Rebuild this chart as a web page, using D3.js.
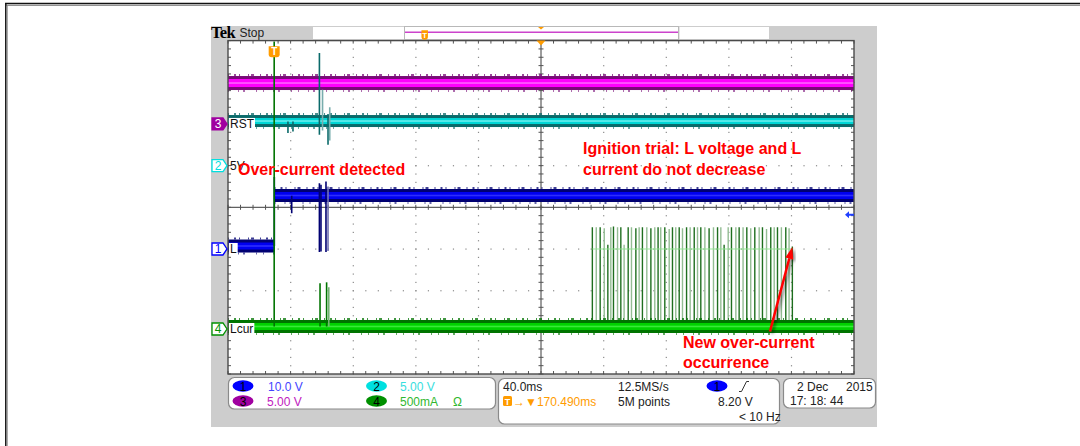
<!DOCTYPE html>
<html><head><meta charset="utf-8">
<script src="https://cdn.jsdelivr.net/npm/d3@7"></script>
<style>html,body{margin:0;padding:0;background:#fff}svg{display:block}</style>
</head><body>
<svg id="c" width="1080" height="446"></svg>
<script>
// ---------------- DATA ----------------
const timePerDiv = 40;          // ms / div
const horizPosition = 170.49;   // ms at screen centre (trigger -> centre)
const channelIds = ["1", "2", "3", "4"];
const channelLabels = ["L", "5V", "RST", "Lcur"];
const channelPerDiv = [10, 5, 5, 0.5];          // V/div, V/div, V/div, A/div
const channelOffsetDiv = [-1, 1, 2, -2.92];     // ground marker position (div)
const channelScaleText = ["10.0 V", "5.00 V", "5.00 V", "500mA"];
const triggerLevel = 8.2;                       // V on channel 1

// flat levels: [tStart ms, tEnd ms, value]
const ch1Levels = [[-29.5, 0.2, 0.71], [0.2, 370.5, 12.83]];
const ch2Levels = [[-29.5, 370.5, 5.35]];
const ch3Levels = [[-29.5, 370.5, 4.91]];
const ch4Levels = [[-29.5, 370.5, 0.03]];

// glitches: [t ms, min value, max value, shade(0 dark / 1 light)]
const ch1Spikes = [[0.1, 0.71, 17.3, 0], [11.2, 8.6, 12.8, 0], [28.9, -0.7, 15.8, 0], [29.9, -0.6, 15.4, 0], [33.1, -0.7, 16.2, 0], [34.4, -0.5, 15.0, 1]];
const ch2Spikes = [[8.8, 3.9, 5.3, 0], [12.0, 4.1, 5.3, 0], [28.9, 3.7, 13.5, 0], [30.9, 4.2, 9.1, 1], [34.4, 2.5, 6.2, 0], [35.5, 3.0, 7.0, 1]];
const ch4Spikes = [[0.0, 0.03, 3.45, 0], [29.3, 0.03, 0.55, 0], [33.5, 0.03, 0.56, 0], [34.9, 0.03, 0.50, 1]];

// current pulses during ignition trial: times (ms) and peak currents (A)
const pulseTimes = [203.3, 205.8, 208.3, 210.9, 213.2, 215.1, 216.8, 219.4, 221.5, 223.6, 226.2, 228.3, 231.1, 233.2, 235.3, 238.1, 240.7, 243.2, 245.3, 247.0, 249.6, 252.4, 254.5, 256.6, 258.8, 260.9, 263.5, 265.8, 268.4, 270.5, 272.6, 275.2, 277.9, 280.7, 283.3, 285.4, 287.5, 290.1, 292.2, 295.0, 297.1, 299.6, 302.0, 304.5, 307.1, 309.9, 312.0, 314.6, 317.3, 319.5, 321.6, 324.1, 326.9, 329.0, 331.1];
const pulsePeaks = [1.22, 1.22, 1.22, 1.21, 1.01, 1.22, 1.23, 1.22, 1.22, 1.01, 1.22, 1.22, 1.21, 1.22, 1.22, 1.22, 1.21, 1.22, 1.22, 1.22, 1.22, 1.20, 1.22, 1.22, 1.22, 1.21, 1.22, 1.22, 1.22, 1.22, 1.22, 1.22, 1.21, 1.22, 1.22, 1.22, 1.01, 1.22, 1.22, 1.22, 1.22, 1.22, 1.22, 1.21, 1.22, 1.22, 1.22, 1.20, 1.22, 1.22, 1.22, 1.22, 1.22, 1.21, 0.99];
const pulseGlowLevel = 0.96;

// annotations
const annotations = [
  {lines: ["Over-current detected"], x: 238, y: 174.5},
  {lines: ["Ignition trial: L voltage and L", "current do not decrease"], x: 583, y: 154},
  {lines: ["New over-current", "occurrence"], x: 683, y: 347.5}
];
const arrowFrom = [316.8, -0.03];   // [ms, A]
const arrowTo = [331.1, 0.985];

const sampleRate = "12.5MS/s", recordLen = "5M points", trigFreq = "< 10 Hz";
const dateText = ["2 Dec", "2015"], timeText = "17: 18: 44";

// ---------------- STYLE ----------------
const palette = {
  "1": {dark: "#000072", bright: "#0000f0", core: "#3a3aff", ui: "#0000ff", text: "#4444ff", width: 13},
  "2": {dark: "#0a6a6a", bright: "#00d6d6", core: "#80f2f2", ui: "#00e0e0", text: "#38dede", width: 12},
  "3": {dark: "#7a0a78", bright: "#ff00ff", core: "#ff7cff", ui: "#a000a0", text: "#c020c0", width: 14},
  "4": {dark: "#007400", bright: "#00d200", core: "#48f048", ui: "#009000", text: "#30b830", width: 13}
};
const FONT = "Liberation Sans, Arial, sans-serif";

const svg = d3.select("#c");
const G = {l: 228, r: 854, t: 40.6, b: 374};
const xDiv = d3.scaleLinear().domain([-5, 5]).range([G.l, G.r]);
const yDiv = d3.scaleLinear().domain([-4, 4]).range([G.b, G.t]);
const xT = d3.scaleLinear().domain([horizPosition - 5 * timePerDiv, horizPosition + 5 * timePerDiv]).range([G.l, G.r]);
const idx = id => channelIds.indexOf(id);
const yV = (id, v) => yDiv(channelOffsetDiv[idx(id)] + v / channelPerDiv[idx(id)]);

// outer document frame
svg.append("line").attr("x1", 5).attr("x2", 1080).attr("y1", 3.5).attr("y2", 3.5).attr("stroke", "#111").attr("stroke-width", 1.3);
svg.append("line").attr("x1", 6).attr("x2", 1080).attr("y1", 5.3).attr("y2", 5.3).attr("stroke", "#777").attr("stroke-width", 1);
svg.append("line").attr("x1", 5.8).attr("x2", 5.8).attr("y1", 3).attr("y2", 446).attr("stroke", "#111").attr("stroke-width", 1.5);
svg.append("line").attr("x1", 7.2).attr("x2", 7.2).attr("y1", 5).attr("y2", 446).attr("stroke", "#888").attr("stroke-width", 1);

// scope panel
svg.append("rect").attr("x", 211).attr("y", 26).attr("width", 666).attr("height", 401).attr("fill", "#cdcdcd");
// top bar
svg.append("rect").attr("x", 313).attr("y", 27).attr("width", 91).attr("height", 12).attr("fill", "#fff");
svg.append("rect").attr("x", 404.5).attr("y", 26.5).attr("width", 274).attr("height", 13).attr("fill", "#fff").attr("stroke", "#b8b8b8");
svg.append("rect").attr("x", 679.5).attr("y", 27).attr("width", 89.5).attr("height", 12).attr("fill", "#fff");
svg.append("line").attr("x1", 405).attr("x2", 678).attr("y1", 32.2).attr("y2", 32.2).attr("stroke", "#cc44cc").attr("stroke-width", 1.4);
svg.append("text").attr("x", 211).attr("y", 38).attr("font-family", "Liberation Serif, Times New Roman, serif").attr("font-weight", "bold").attr("font-size", 16.5).attr("letter-spacing", -0.7).text("Tek");
svg.append("text").attr("x", 239.5).attr("y", 37).attr("font-family", FONT).attr("font-size", 12).attr("fill", "#222").text("Stop");

function tTab(g, cx, top, w, h, fs) {
  g.append("path").attr("d", `M${cx - w / 2},${top} h${w} v${h - 3} q0,3 -3,3 h${-(w - 6)} q-3,0 -3,-3 z`).attr("fill", "#ff9c00");
  g.append("text").attr("x", cx).attr("y", top + h - 2).attr("text-anchor", "middle").attr("font-family", FONT).attr("font-weight", "bold").attr("font-size", fs).attr("fill", "#fff").text("T");
}
tTab(svg, 424.7, 30.3, 6.5, 9.4, 8);
svg.append("path").attr("d", "M538,27 h6 l-3,2.5 z").attr("fill", "#ff9c00");

// graticule
svg.append("rect").attr("x", G.l).attr("y", G.t).attr("width", G.r - G.l).attr("height", G.b - G.t).attr("fill", "#fff");
const grid = svg.append("g");
const minorX = d3.range(-5, 5.001, 0.2), minorY = d3.range(-4, 4.001, 0.2);
d3.range(-4, 5).filter(i => i !== 0).forEach(i => {
  grid.selectAll(null).data(minorY).join("rect").attr("x", xDiv(i) - 0.5).attr("y", d => yDiv(d) - 0.5).attr("width", 1.2).attr("height", 1.2).attr("fill", "#8a8a8a");
});
d3.range(-3, 4).filter(j => j !== 0).forEach(j => {
  grid.selectAll(null).data(minorX).join("rect").attr("x", d => xDiv(d) - 0.5).attr("y", yDiv(j) - 0.5).attr("width", 1.2).attr("height", 1.2).attr("fill", "#8a8a8a");
});
// centre lines
grid.append("line").attr("x1", G.l).attr("x2", G.r).attr("y1", yDiv(0)).attr("y2", yDiv(0)).attr("stroke", "#3a3a3a").attr("stroke-width", 1);
grid.append("line").attr("x1", xDiv(0)).attr("x2", xDiv(0)).attr("y1", G.t).attr("y2", G.b).attr("stroke", "#3a3a3a").attr("stroke-width", 1);
grid.selectAll(null).data(minorX).join("line").attr("x1", d => xDiv(d)).attr("x2", d => xDiv(d)).attr("y1", yDiv(0) - 2.5).attr("y2", yDiv(0) + 2.5).attr("stroke", "#555");
grid.selectAll(null).data(minorY).join("line").attr("y1", d => yDiv(d)).attr("y2", d => yDiv(d)).attr("x1", xDiv(0) - 2.5).attr("x2", xDiv(0) + 2.5).attr("stroke", "#555");
// edge ticks
grid.selectAll(null).data(minorX).join("line").attr("x1", d => xDiv(d)).attr("x2", d => xDiv(d)).attr("y1", G.t).attr("y2", G.t + 3).attr("stroke", "#555");
grid.selectAll(null).data(minorX).join("line").attr("x1", d => xDiv(d)).attr("x2", d => xDiv(d)).attr("y1", G.b - 3).attr("y2", G.b).attr("stroke", "#555");
grid.selectAll(null).data(minorY).join("line").attr("y1", d => yDiv(d)).attr("y2", d => yDiv(d)).attr("x1", G.l).attr("x2", G.l + 3).attr("stroke", "#555");
grid.selectAll(null).data(minorY).join("line").attr("y1", d => yDiv(d)).attr("y2", d => yDiv(d)).attr("x1", G.r - 3).attr("x2", G.r).attr("stroke", "#555");

// clip
svg.append("clipPath").attr("id", "gclip").append("rect").attr("x", G.l).attr("y", G.t).attr("width", G.r - G.l).attr("height", G.b - G.t);
const traces = svg.append("g").attr("clip-path", "url(#gclip)");

function band(id, lv) {
  const p = palette[id], yc = yV(id, lv[2]), x0 = xT(lv[0]), x1 = xT(lv[1]), w = p.width;
  traces.append("rect").attr("x", x0).attr("y", yc - w / 2).attr("width", x1 - x0).attr("height", w).attr("fill", p.dark);
  traces.append("rect").attr("x", x0).attr("y", yc - w / 2 + 3).attr("width", x1 - x0).attr("height", w - 6).attr("fill", p.bright);
  traces.append("rect").attr("x", x0).attr("y", yc - 0.8).attr("width", x1 - x0).attr("height", 1.6).attr("fill", p.core).attr("opacity", 0.8);
  traces.append("line").attr("x1", x0).attr("x2", x1).attr("y1", yc - w / 2 - 1).attr("y2", yc - w / 2 - 1).attr("stroke", p.dark).attr("stroke-width", 2).attr("stroke-dasharray", "1,5,2,3,1,8,1,2,3,6").attr("opacity", 0.75);
  traces.append("line").attr("x1", x0).attr("x2", x1).attr("y1", yc + w / 2 + 1).attr("y2", yc + w / 2 + 1).attr("stroke", p.dark).attr("stroke-width", 2).attr("stroke-dasharray", "1,9,1,4,2,11,1,6").attr("opacity", 0.6);
}
function spikes(id, arr) {
  const p = palette[id];
  traces.selectAll(null).data(arr).join("line")
    .attr("x1", d => xT(d[0])).attr("x2", d => xT(d[0]))
    .attr("y1", d => yV(id, d[1])).attr("y2", d => yV(id, d[2]))
    .attr("stroke", d => d[3] ? d3.interpolateRgb(p.dark, "#ffffff")(0.45) : p.dark).attr("stroke-width", 1.6);
}

// pulses (behind ch4 band)
const pulses = pulseTimes.map((t, i) => ({t, v: pulsePeaks[i], i}));
traces.selectAll(null).data(pulses).join("line")
  .attr("x1", d => xT(d.t)).attr("x2", d => xT(d.t))
  .attr("y1", yV("4", ch4Levels[0][2])).attr("y2", d => yV("4", d.v))
  .attr("stroke", d => d.i % 2 ? "#93bd93" : "#1e6e1e").attr("stroke-width", 1.4);
traces.append("line").attr("x1", xT(pulseTimes[0])).attr("x2", xT(pulseTimes[pulseTimes.length - 1]))
  .attr("y1", yV("4", pulseGlowLevel)).attr("y2", yV("4", pulseGlowLevel)).attr("stroke", "#8fe88f").attr("stroke-width", 2).attr("opacity", 0.45);

ch3Levels.forEach(l => band("3", l));
ch2Levels.forEach(l => band("2", l));
ch1Levels.forEach(l => band("1", l));
ch4Levels.forEach(l => band("4", l));
spikes("2", ch2Spikes);
spikes("1", ch1Spikes);
spikes("4", ch4Spikes);

// graticule border
svg.append("rect").attr("x", G.l).attr("y", G.t).attr("width", G.r - G.l).attr("height", G.b - G.t).attr("fill", "none").attr("stroke", "#4a4a4a").attr("stroke-width", 1.4);

// trigger markers
tTab(svg, xT(0), 46.3, 11, 11, 10);
svg.append("path").attr("d", `M${xDiv(0) - 4.5},${G.t} h9 l-4.5,5 z`).attr("fill", "#ff9c00");
const tl = yV("1", triggerLevel);
svg.append("path").attr("d", `M${G.r - 9},${tl} l4,-3.5 v2.5 h5 v2 h-5 v2.5 z`).attr("fill", "#2040ff");

// channel markers & labels
function marker(id, label, filled, boxed) {
  const p = palette[id], y = yDiv(channelOffsetDiv[idx(id)]);
  svg.append("path").attr("d", `M212,${y - 6} h11 l4,6 l-4,6 h-11 z`).attr("fill", filled ? p.ui : "#fff").attr("stroke", p.ui).attr("stroke-width", 1.3);
  svg.append("text").attr("x", 218).attr("y", y + 4.5).attr("text-anchor", "middle").attr("font-family", FONT).attr("font-size", 12).attr("fill", filled ? "#fff" : p.ui).text(id);
  const t = svg.append("text").attr("x", 230).attr("y", y + 4.5).attr("font-family", FONT).attr("font-size", 12).attr("fill", "#111").text(label);
  if (boxed) {
    const w = t.node().getComputedTextLength();
    svg.insert("rect", "text:last-of-type").attr("x", 229).attr("y", y - 6).attr("width", w + 2).attr("height", 12).attr("fill", "#fff");
    t.raise();
  }
}
marker("3", channelLabels[2], true, true);
marker("2", channelLabels[1], false, false);
marker("1", channelLabels[0], false, true);
marker("4", channelLabels[3], false, true);

// annotations
annotations.forEach(a => {
  a.lines.forEach((s, i) => svg.append("text").attr("x", a.x).attr("y", a.y + i * 20.5)
    .attr("font-family", FONT).attr("font-weight", "bold").attr("font-size", 16).attr("fill", "#ff0000").text(s));
});
const defs = svg.append("defs");
defs.append("filter").attr("id", "sh").append("feDropShadow").attr("dx", 2).attr("dy", 2).attr("stdDeviation", 1.5).attr("flood-color", "#000").attr("flood-opacity", 0.5);
const ax0 = xT(arrowFrom[0]), ay0 = yV("4", arrowFrom[1]), ax1 = xT(arrowTo[0]), ay1 = yV("4", arrowTo[1]);
const ang = Math.atan2(ay1 - ay0, ax1 - ax0), hl = 12, hw = 4;
const bx = ax1 - hl * Math.cos(ang), by = ay1 - hl * Math.sin(ang);
const arr = svg.append("g").attr("filter", "url(#sh)");
arr.append("line").attr("x1", ax0).attr("y1", ay0).attr("x2", bx).attr("y2", by).attr("stroke", "#ff0000").attr("stroke-width", 2.5);
arr.append("path").attr("d", `M${ax1},${ay1} L${bx + hw * Math.sin(ang)},${by - hw * Math.cos(ang)} L${bx - hw * Math.sin(ang)},${by + hw * Math.cos(ang)} Z`).attr("fill", "#ff0000");

// info boxes
function box(x, y, w, h) {
  svg.append("rect").attr("x", x).attr("y", y).attr("width", w).attr("height", h).attr("rx", 6).attr("fill", "#fff").attr("stroke", "#8a8a8a").attr("stroke-width", 1.2);
}
function txt(x, y, s, c, anchor) {
  return svg.append("text").attr("x", x).attr("y", y).attr("font-family", FONT).attr("font-size", 12).attr("fill", c || "#222").attr("text-anchor", anchor || "start").text(s);
}
function pill(cx, cy, id) {
  svg.append("ellipse").attr("cx", cx).attr("cy", cy).attr("rx", 10.5).attr("ry", 5.8).attr("fill", palette[id].ui);
  txt(cx, cy + 4.5, id, "#000", "middle");
}
box(228.5, 377.5, 267, 31.5);
const rowsY = [386, 401];
[["1", 243, rowsY[0], 268], ["2", 376.5, rowsY[0], 400], ["3", 243, rowsY[1], 267], ["4", 376.5, rowsY[1], 400]].forEach(([id, cx, cy, tx]) => {
  pill(cx, cy, id);
  txt(tx, cy + 4.5, channelScaleText[idx(id)], palette[id].text);
});
txt(453, rowsY[1] + 4.5, "Ω", palette["4"].text);

box(498.5, 378.5, 281, 45.5);
txt(503, 390.5, `${timePerDiv.toFixed(1)}ms`);
txt(618, 390.5, sampleRate);
pill(717, 386, "1");
svg.append("path").attr("d", "M739,391.5 h2.5 l5,-10 h2.5").attr("fill", "none").attr("stroke", "#333").attr("stroke-width", 1);
svg.append("rect").attr("x", 503).attr("y", 396).attr("width", 9).attr("height", 10).attr("rx", 1.5).attr("fill", "#ff9c00");
txt(507.5, 405, "T", "#fff", "middle").attr("font-weight", "bold").attr("font-size", 9);
txt(513, 405.5, `→▼${horizPosition.toFixed(3)}ms`, "#ff9c00");
txt(618, 405.5, recordLen);
txt(718, 405.5, `${triggerLevel.toFixed(2)} V`);
txt(739, 420.5, trigFreq);

box(783.5, 378.5, 92, 29.5);
txt(797, 390.5, dateText[0]);
txt(846, 390.5, dateText[1]);
txt(790, 405, timeText);
</script>
</body></html>
